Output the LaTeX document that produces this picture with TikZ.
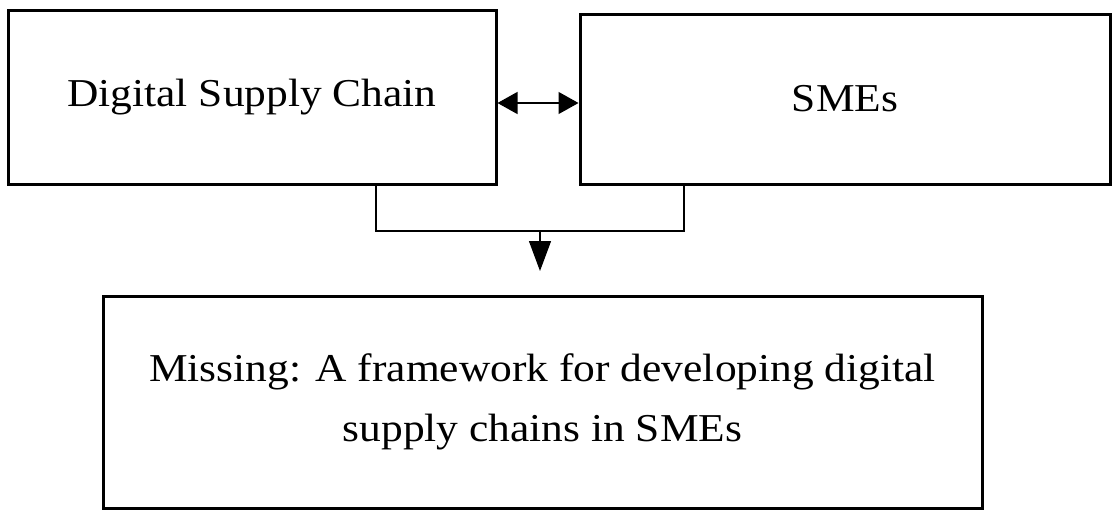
\documentclass[tikz,border=0pt]{standalone}
\usepackage{fontspec}
\setmainfont{Liberation Serif}[FakeStretch=1.1]
\usetikzlibrary{arrows.meta}
\begin{document}
\begin{tikzpicture}[x=1pt,y=-1pt,
  box/.style={draw,line width=3pt,inner sep=0pt,font=\fontsize{39.5}{60}\selectfont,align=center},
  conn/.style={line width=1.3pt}]
\useasboundingbox (0,0) rectangle (1119,517);
\node[box,minimum width=488pt,minimum height=174pt] (dsc) at (252,97) {Digital Supply Chain};
\node[box,minimum width=530pt,minimum height=170pt] (sme) at (845,99) {SMEs};
\node[box,minimum width=879pt,minimum height=212pt] (mis) at (542.5,402) {Missing: A framework for developing digital\\supply chains in SMEs};
\draw[conn,{Triangle[length=20pt,width=22pt]}-{Triangle[length=20pt,width=22pt]}] (dsc.east |- 0,103) -- (sme.west |- 0,103);
\coordinate (j) at (540,231);
\draw[conn] (dsc.south -| 376,0) -- (376,231) -- (684,231) -- (sme.south -| 684,0);
\draw[conn,-{Triangle[length=30pt,width=22pt]}] (j) -- (540,271);
\end{tikzpicture}
\end{document}
